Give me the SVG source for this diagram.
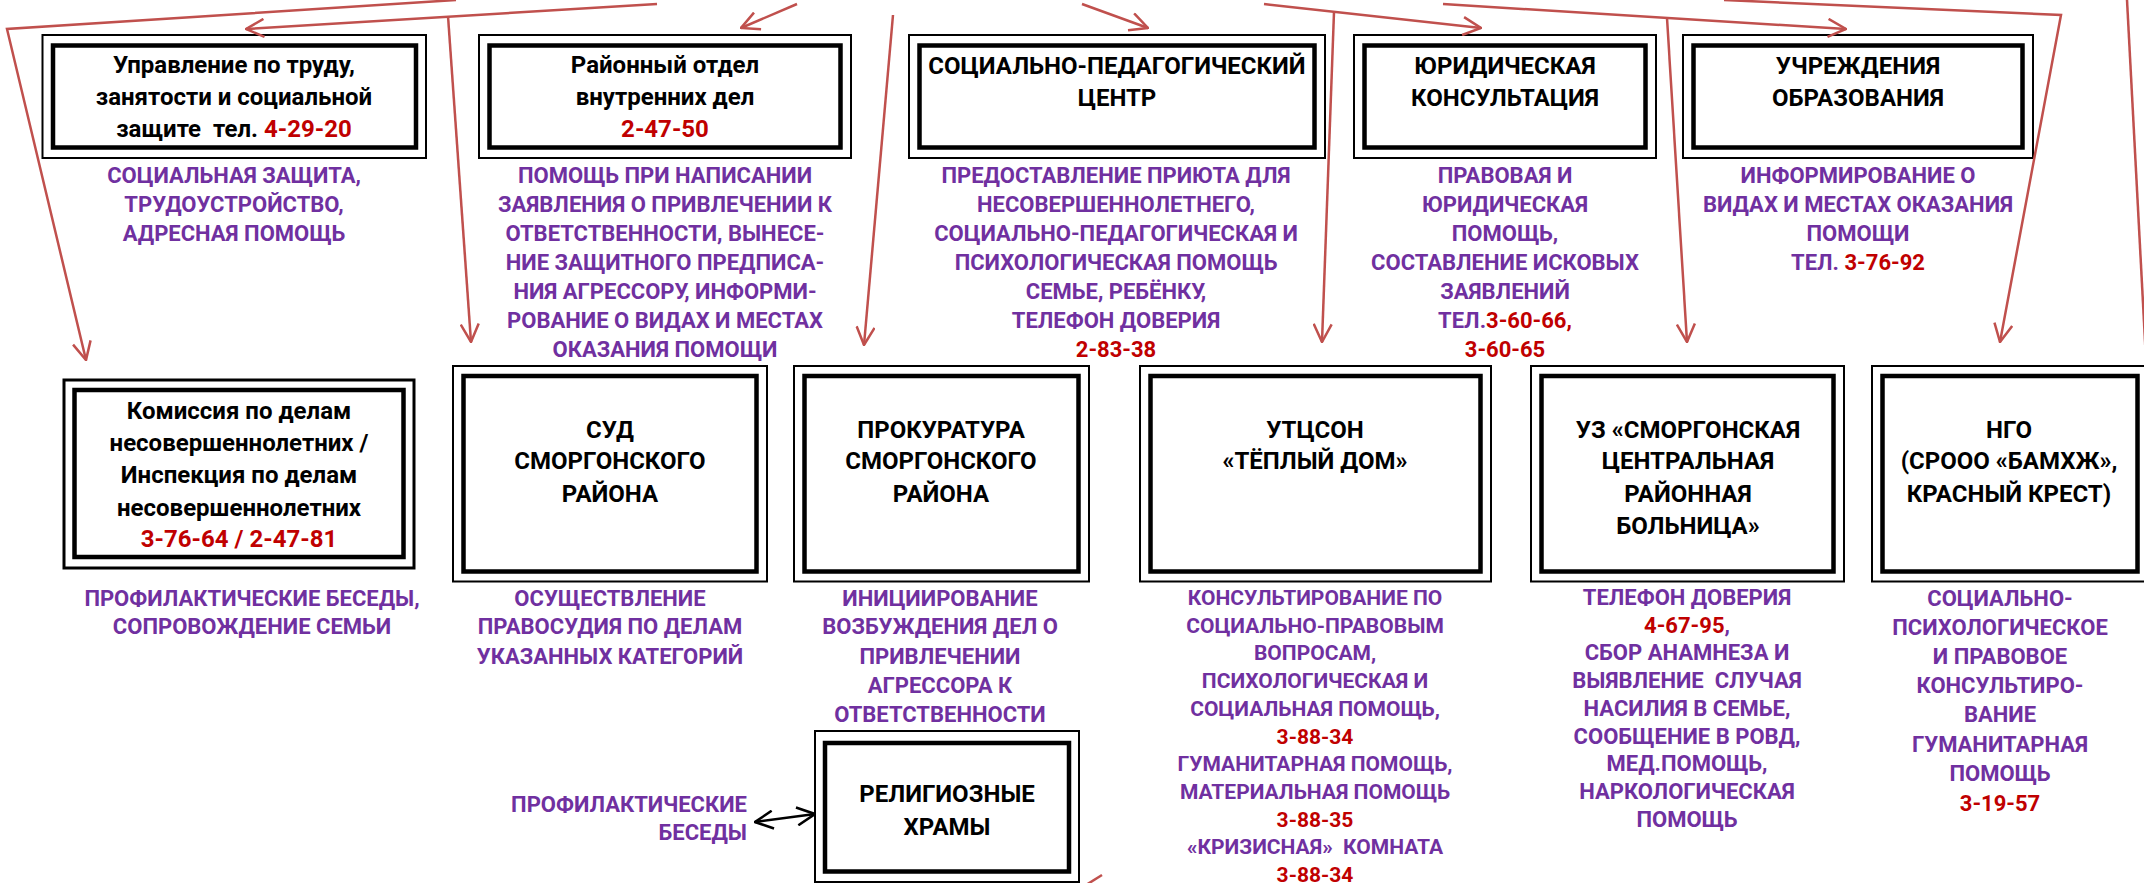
<svg xmlns="http://www.w3.org/2000/svg" width="2144" height="883" viewBox="0 0 2144 883">
<style>
text{font-family:Roboto,'Liberation Sans',sans-serif;font-weight:700;text-anchor:middle}
.t{font-size:24px;fill:#000}
.d{font-size:22px;fill:#7030A0}
.s{font-size:21px;fill:#7030A0}
.r{fill:#C00000}
.o{fill:none;stroke:#000;stroke-width:2}
.i{fill:none;stroke:#000;stroke-width:4.5}
.c{fill:none;stroke:#C0504D;stroke-width:2.5}
.k{fill:none;stroke:#000;stroke-width:2.5}
</style>
<defs>
<marker id="ar" viewBox="0 0 20 20" refX="19" refY="10" markerWidth="20" markerHeight="20" markerUnits="userSpaceOnUse" orient="auto"><path d="M1,1 L19,10 L1,19" fill="none" stroke="#C0504D" stroke-width="2.5"/></marker>
<marker id="ak" viewBox="0 0 20 20" refX="19" refY="10" markerWidth="20" markerHeight="20" markerUnits="userSpaceOnUse" orient="auto-start-reverse"><path d="M1,1 L19,10 L1,19" fill="none" stroke="#000" stroke-width="2.5"/></marker>
</defs>
<rect width="2144" height="883" fill="#fff"/>

<g id="n-trud">
<rect class="o" x="42.5" y="35" width="383.5" height="123"/>
<rect class="i" x="53" y="45.5" width="363" height="102"/>
<text class="t" x="234" y="73">Управление по труду,</text>
<text class="t" x="234" y="105">занятости и социальной</text>
<text class="t" x="234" y="137" xml:space="preserve">защите  тел. <tspan class="r">4-29-20</tspan></text>
<text class="d" x="234" y="183">СОЦИАЛЬНАЯ ЗАЩИТА,</text>
<text class="d" x="234" y="212">ТРУДОУСТРОЙСТВО,</text>
<text class="d" x="234" y="241">АДРЕСНАЯ ПОМОЩЬ</text>
</g>

<g id="n-rovd">
<rect class="o" x="479" y="35" width="372" height="123"/>
<rect class="i" x="489.5" y="45.5" width="351" height="102"/>
<text class="t" x="665" y="73">Районный отдел</text>
<text class="t" x="665" y="105">внутренних дел</text>
<text class="t r" x="665" y="137">2-47-50</text>
<text class="d" x="665" y="183">ПОМОЩЬ ПРИ НАПИСАНИИ</text>
<text class="d" x="665" y="212">ЗАЯВЛЕНИЯ О ПРИВЛЕЧЕНИИ К</text>
<text class="d" x="665" y="241">ОТВЕТСТВЕННОСТИ, ВЫНЕСЕ-</text>
<text class="d" x="665" y="270">НИЕ ЗАЩИТНОГО ПРЕДПИСА-</text>
<text class="d" x="665" y="299">НИЯ АГРЕССОРУ, ИНФОРМИ-</text>
<text class="d" x="665" y="328">РОВАНИЕ О ВИДАХ И МЕСТАХ</text>
<text class="d" x="665" y="357">ОКАЗАНИЯ ПОМОЩИ</text>
</g>

<g id="n-spc">
<rect class="o" x="909" y="35" width="416" height="123"/>
<rect class="i" x="919.5" y="45.5" width="395" height="102"/>
<text class="t" x="1117" y="74">СОЦИАЛЬНО-ПЕДАГОГИЧЕСКИЙ</text>
<text class="t" x="1117" y="106">ЦЕНТР</text>
<text class="d" x="1116" y="183">ПРЕДОСТАВЛЕНИЕ ПРИЮТА ДЛЯ</text>
<text class="d" x="1116" y="212">НЕСОВЕРШЕННОЛЕТНЕГО,</text>
<text class="d" x="1116" y="241">СОЦИАЛЬНО-ПЕДАГОГИЧЕСКАЯ И</text>
<text class="d" x="1116" y="270">ПСИХОЛОГИЧЕСКАЯ ПОМОЩЬ</text>
<text class="d" x="1116" y="299">СЕМЬЕ, РЕБЁНКУ,</text>
<text class="d" x="1116" y="328">ТЕЛЕФОН ДОВЕРИЯ</text>
<text class="d r" x="1116" y="357">2-83-38</text>
</g>

<g id="n-yur">
<rect class="o" x="1354" y="35" width="302" height="123"/>
<rect class="i" x="1364.5" y="45.5" width="281" height="102"/>
<text class="t" x="1505" y="74">ЮРИДИЧЕСКАЯ</text>
<text class="t" x="1505" y="106">КОНСУЛЬТАЦИЯ</text>
<text class="d" x="1505" y="183">ПРАВОВАЯ И</text>
<text class="d" x="1505" y="212">ЮРИДИЧЕСКАЯ</text>
<text class="d" x="1505" y="241">ПОМОЩЬ,</text>
<text class="d" x="1505" y="270">СОСТАВЛЕНИЕ ИСКОВЫХ</text>
<text class="d" x="1505" y="299">ЗАЯВЛЕНИЙ</text>
<text class="d" x="1505" y="328">ТЕЛ.<tspan class="r">3-60-66,</tspan></text>
<text class="d r" x="1505" y="357">3-60-65</text>
</g>

<g id="n-obr">
<rect class="o" x="1683" y="35" width="350" height="123"/>
<rect class="i" x="1693.5" y="45.5" width="329" height="102"/>
<text class="t" x="1858" y="74">УЧРЕЖДЕНИЯ</text>
<text class="t" x="1858" y="106">ОБРАЗОВАНИЯ</text>
<text class="d" x="1858" y="183">ИНФОРМИРОВАНИЕ О</text>
<text class="d" x="1858" y="212">ВИДАХ И МЕСТАХ ОКАЗАНИЯ</text>
<text class="d" x="1858" y="241">ПОМОЩИ</text>
<text class="d" x="1858" y="270">ТЕЛ. <tspan class="r">3-76-92</tspan></text>
</g>

<g id="n-kdn">
<rect class="o" x="64" y="380" width="350" height="188" style="stroke-width:3"/>
<rect class="i" x="74.5" y="390" width="329" height="167"/>
<text class="t" x="239" y="419">Комиссия по делам</text>
<text class="t" x="239" y="451">несовершеннолетних /</text>
<text class="t" x="239" y="483">Инспекция по делам</text>
<text class="t" x="239" y="516">несовершеннолетних</text>
<text class="t r" x="239" y="547">3-76-64 / 2-47-81</text>
<text class="d" x="252" y="606">ПРОФИЛАКТИЧЕСКИЕ БЕСЕДЫ,</text>
<text class="d" x="252" y="634">СОПРОВОЖДЕНИЕ СЕМЬИ</text>
</g>

<g id="n-sud">
<rect class="o" x="453" y="366" width="314" height="215.5"/>
<rect class="i" x="463.5" y="376" width="293" height="195.5"/>
<text class="t" x="610" y="438">СУД</text>
<text class="t" x="610" y="469">СМОРГОНСКОГО</text>
<text class="t" x="610" y="502">РАЙОНА</text>
<text class="d" x="610" y="606">ОСУЩЕСТВЛЕНИЕ</text>
<text class="d" x="610" y="634">ПРАВОСУДИЯ ПО ДЕЛАМ</text>
<text class="d" x="610" y="664">УКАЗАННЫХ КАТЕГОРИЙ</text>
</g>

<g id="n-prok">
<rect class="o" x="794" y="366" width="295" height="215.5"/>
<rect class="i" x="804.5" y="376" width="274" height="195.5"/>
<text class="t" x="941" y="438">ПРОКУРАТУРА</text>
<text class="t" x="941" y="469">СМОРГОНСКОГО</text>
<text class="t" x="941" y="502">РАЙОНА</text>
<text class="d" x="940" y="606">ИНИЦИИРОВАНИЕ</text>
<text class="d" x="940" y="634">ВОЗБУЖДЕНИЯ ДЕЛ О</text>
<text class="d" x="940" y="664">ПРИВЛЕЧЕНИИ</text>
<text class="d" x="940" y="693">АГРЕССОРА К</text>
<text class="d" x="940" y="722">ОТВЕТСТВЕННОСТИ</text>
</g>

<g id="n-utcson">
<rect class="o" x="1140" y="366" width="351" height="215.5"/>
<rect class="i" x="1150.5" y="376" width="330" height="195.5"/>
<text class="t" x="1315" y="438">УТЦСОН</text>
<text class="t" x="1315" y="469">«ТЁПЛЫЙ ДОМ»</text>
<text class="s" x="1315" y="605">КОНСУЛЬТИРОВАНИЕ ПО</text>
<text class="s" x="1315" y="632.7">СОЦИАЛЬНО-ПРАВОВЫМ</text>
<text class="s" x="1315" y="660.4">ВОПРОСАМ,</text>
<text class="s" x="1315" y="688.1">ПСИХОЛОГИЧЕСКАЯ И</text>
<text class="s" x="1315" y="715.8">СОЦИАЛЬНАЯ ПОМОЩЬ,</text>
<text class="s r" x="1315" y="743.5">3-88-34</text>
<text class="s" x="1315" y="771.2">ГУМАНИТАРНАЯ ПОМОЩЬ,</text>
<text class="s" x="1315" y="798.9">МАТЕРИАЛЬНАЯ ПОМОЩЬ</text>
<text class="s r" x="1315" y="826.6">3-88-35</text>
<text class="s" x="1315" y="854.3" xml:space="preserve">«КРИЗИСНАЯ»  КОМНАТА</text>
<text class="s r" x="1315" y="882">3-88-34</text>
</g>

<g id="n-crb">
<rect class="o" x="1531" y="366" width="313" height="215.5"/>
<rect class="i" x="1541.5" y="376" width="292" height="195.5"/>
<text class="t" x="1688" y="438">УЗ «СМОРГОНСКАЯ</text>
<text class="t" x="1688" y="469">ЦЕНТРАЛЬНАЯ</text>
<text class="t" x="1688" y="502">РАЙОННАЯ</text>
<text class="t" x="1688" y="534">БОЛЬНИЦА»</text>
<text class="d" x="1687" y="605">ТЕЛЕФОН ДОВЕРИЯ</text>
<text class="d" x="1687" y="632.7"><tspan class="r">4-67-95</tspan>,</text>
<text class="d" x="1687" y="660.4">СБОР АНАМНЕЗА И</text>
<text class="d" x="1687" y="688.1" xml:space="preserve">ВЫЯВЛЕНИЕ  СЛУЧАЯ</text>
<text class="d" x="1687" y="715.8">НАСИЛИЯ В СЕМЬЕ,</text>
<text class="d" x="1687" y="743.5">СООБЩЕНИЕ В РОВД,</text>
<text class="d" x="1687" y="771.2">МЕД.ПОМОЩЬ,</text>
<text class="d" x="1687" y="798.9">НАРКОЛОГИЧЕСКАЯ</text>
<text class="d" x="1687" y="826.6">ПОМОЩЬ</text>
</g>

<g id="n-ngo">
<rect class="o" x="1872" y="366" width="276" height="215.5"/>
<rect class="i" x="1882.5" y="376" width="255" height="195.5"/>
<text class="t" x="2009" y="438">НГО</text>
<text class="t" x="2009" y="469">(СРООО «БАМХЖ»,</text>
<text class="t" x="2009" y="502">КРАСНЫЙ КРЕСТ)</text>
<text class="d" x="2000" y="606">СОЦИАЛЬНО-</text>
<text class="d" x="2000" y="635">ПСИХОЛОГИЧЕСКОЕ</text>
<text class="d" x="2000" y="664">И ПРАВОВОЕ</text>
<text class="d" x="2000" y="693">КОНСУЛЬТИРО-</text>
<text class="d" x="2000" y="722">ВАНИЕ</text>
<text class="d" x="2000" y="752">ГУМАНИТАРНАЯ</text>
<text class="d" x="2000" y="781">ПОМОЩЬ</text>
<text class="d r" x="2000" y="811">3-19-57</text>
</g>

<g id="n-hram">
<rect class="o" x="815" y="731" width="264" height="151"/>
<rect class="i" x="825" y="743" width="244" height="128.5"/>
<text class="t" x="947" y="802">РЕЛИГИОЗНЫЕ</text>
<text class="t" x="947" y="835">ХРАМЫ</text>
<text class="d" x="747" y="812" style="text-anchor:end">ПРОФИЛАКТИЧЕСКИЕ</text>
<text class="d" x="747" y="840" style="text-anchor:end">БЕСЕДЫ</text>
</g>

<g id="connectors">
<path class="c" d="M456,0 L7,29 L86,360" marker-end="url(#ar)"/>
<path class="c" d="M657,4 L246,29" marker-end="url(#ar)"/>
<path class="c" d="M448,16 L471,342" marker-end="url(#ar)"/>
<path class="c" d="M797,4 L741,28" marker-end="url(#ar)"/>
<path class="c" d="M893,15 L864,345" marker-end="url(#ar)"/>
<path class="c" d="M1082,4 L1148,28" marker-end="url(#ar)"/>
<path class="c" d="M1264,4 L1481,28" marker-end="url(#ar)"/>
<path class="c" d="M1334,12 L1322,342" marker-end="url(#ar)"/>
<path class="c" d="M1443,4 L1846,29" marker-end="url(#ar)"/>
<path class="c" d="M1667,18 L1687,342" marker-end="url(#ar)"/>
<path class="c" d="M1724,0 L2061,15 L2000,342" marker-end="url(#ar)"/>
<path class="c" d="M2127,0 L2146,360"/>
<path class="c" d="M1086,885 L1102,875"/>
<path class="k" d="M755,822 L815,814" marker-start="url(#ak)" marker-end="url(#ak)"/>
</g>
</svg>
